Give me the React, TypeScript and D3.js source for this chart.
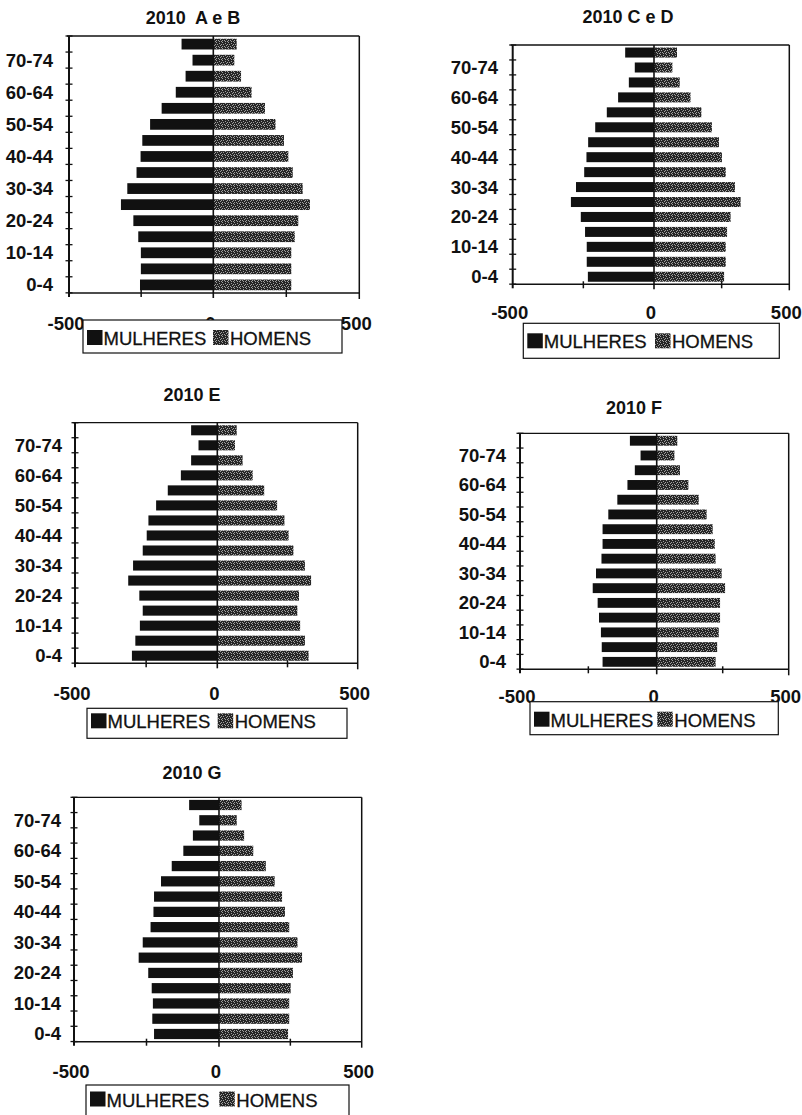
import React from "react";
import * as d3 from "d3";

// Age groups, youngest first (drawn bottom to top)
const AGE_GROUPS = [
  "0-4", "5-9", "10-14", "15-19", "20-24", "25-29", "30-34", "35-39",
  "40-44", "45-49", "50-54", "55-59", "60-64", "65-69", "70-74", "75+",
];

const X_TICKS = [-500, -250, 0, 250, 500];
const X_TICK_LABELS = [-500, 0, 500];

const SERIES_NAMES = ["MULHERES", "HOMENS"];

// Population per age group, youngest first
const MULHERES_AB = [254, 251, 251, 260, 277, 320, 298, 266, 252, 246, 219, 179, 130, 96, 72, 110];
const HOMENS_AB = [267, 267, 267, 279, 291, 331, 306, 272, 257, 242, 213, 177, 131, 95, 72, 80];

const MULHERES_CD = [234, 238, 238, 244, 259, 294, 276, 247, 239, 233, 208, 167, 127, 89, 68, 102];
const HOMENS_CD = [259, 265, 265, 270, 283, 320, 299, 265, 251, 240, 214, 175, 135, 95, 68, 85];

const MULHERES_E = [300, 288, 272, 262, 274, 313, 296, 262, 248, 242, 215, 174, 128, 92, 66, 92];
const HOMENS_E = [325, 312, 295, 285, 291, 334, 312, 271, 254, 239, 213, 167, 126, 90, 63, 69];

const MULHERES_F = [198, 201, 204, 211, 216, 234, 222, 202, 198, 198, 177, 144, 107, 80, 59, 98];
const HOMENS_F = [223, 229, 235, 240, 240, 259, 246, 223, 220, 212, 189, 159, 120, 88, 67, 78];

const MULHERES_G = [224, 230, 228, 232, 244, 277, 263, 236, 226, 224, 200, 163, 123, 90, 68, 103];
const HOMENS_G = [242, 246, 246, 251, 259, 291, 275, 246, 231, 221, 195, 164, 120, 88, 62, 79];

const TITLES = ["2010  A e B", "2010 C e D", "2010 E", "2010 F", "2010 G"];

// Panel geometry
const PANELS = [
  {
    title: TITLES[0], women: MULHERES_AB, men: HOMENS_AB,
    x: [69, 213.3, 359.3], top: 36, bottom: 293, titleX: 193, titleY: 18,
    labelRight: 53, tickY: 323,
    legend: { x: 83, y: 320, w: 259, h: 33, base: 345, gray: 130 },
  },
  {
    title: TITLES[1], women: MULHERES_CD, men: HOMENS_CD,
    x: [512.7, 654, 789.3], top: 45, bottom: 284.3, titleX: 628, titleY: 17,
    labelRight: 498, tickY: 312,
    legend: { x: 523.3, y: 323.3, w: 256, h: 35, base: 348.3, gray: 131.7 },
  },
  {
    title: TITLES[2], women: MULHERES_E, men: HOMENS_E,
    x: [75, 217.3, 357.7], top: 422.7, bottom: 663.3, titleX: 192, titleY: 395,
    labelRight: 62, tickY: 693,
    legend: { x: 87, y: 708.3, w: 260, h: 30, base: 728.3, gray: 130.7 },
  },
  {
    title: TITLES[3], women: MULHERES_F, men: HOMENS_F,
    x: [520, 656.7, 788.7], top: 433.3, bottom: 669.3, titleX: 634, titleY: 408,
    labelRight: 506, tickY: 696.7,
    legend: { x: 530, y: 701.7, w: 248.3, h: 33, base: 726.7, gray: 127.3 },
  },
  {
    title: TITLES[4], women: MULHERES_G, men: HOMENS_G,
    x: [74, 219, 361.7], top: 797.3, bottom: 1041.7, titleX: 192, titleY: 773,
    labelRight: 61, tickY: 1071.7,
    legend: { x: 86, y: 1085, w: 263, h: 40, base: 1106.5, gray: 133.3 },
  },
];

const FONT = "'Liberation Sans', Arial, Helvetica, sans-serif";
const INK = "#111";

// Speckle dots for the men's bars
const SPECKLE = [
  [0, 0], [3, 1], [1, 2], [4, 3], [2, 4], [5, 5], [0, 4], [3, 5], [5, 2],
];

function Pyramid({ p }: { p: (typeof PANELS)[number] }) {
  const x = d3.scaleLinear().domain([-500, 0, 500]).range(p.x);
  const y = d3
    .scaleBand<string>()
    .domain([...AGE_GROUPS].reverse())
    .range([p.top, p.bottom])
    .paddingInner(0.33)
    .paddingOuter(0.17);
  const step = y.step();
  const [left, zero, right] = p.x;
  const lg = p.legend;

  return (
    <g>
      <text x={p.titleX} y={p.titleY + 6.4} textAnchor="middle" fontFamily={FONT}
        fontWeight="bold" fontSize={18} fill={INK} style={{ whiteSpace: "pre" }}>
        {p.title}
      </text>

      {AGE_GROUPS.map((g, i) => (
        <rect key={"w" + g} x={x(-p.women[i])} y={y(g)} width={x(0) - x(-p.women[i])}
          height={y.bandwidth()} fill={INK} />
      ))}
      {AGE_GROUPS.map((g, i) => (
        <rect key={"m" + g} x={x(0)} y={y(g)} width={x(p.men[i]) - x(0)}
          height={y.bandwidth()} fill="url(#speckle)" />
      ))}

      {/* plot frame */}
      <line x1={left - 2} x2={right} y1={p.top} y2={p.top} stroke={INK} strokeWidth={1.3} />
      <line x1={right} x2={right} y1={p.top} y2={p.bottom + 6} stroke={INK} strokeWidth={1.5} />
      <line x1={left} x2={right} y1={p.bottom} y2={p.bottom} stroke={INK} strokeWidth={1.6} />
      <line x1={left} x2={left} y1={p.top} y2={p.bottom + 4} stroke={INK} strokeWidth={2} />
      <line x1={zero} x2={zero} y1={p.top} y2={p.bottom + 5} stroke={INK} strokeWidth={1.6} />

      {/* category tick marks */}
      {d3.range(AGE_GROUPS.length + 1).map((i) => (
        <line key={"ct" + i} x1={left - 3.5} x2={left + 3.5}
          y1={p.top + i * step} y2={p.top + i * step} stroke={INK} strokeWidth={1.3} />
      ))}
      {X_TICKS.filter((t) => t !== 0 && Math.abs(t) !== 500).map((t) => (
        <line key={"xt" + t} x1={x(t)} x2={x(t)} y1={p.bottom - 3} y2={p.bottom + 4}
          stroke={INK} strokeWidth={1.5} />
      ))}

      {AGE_GROUPS.map((g, i) =>
        i % 2 === 0 ? (
          <text key={"l" + g} x={p.labelRight} y={(y(g) as number) + y.bandwidth() / 2 + 6.5}
            textAnchor="end" fontFamily={FONT} fontWeight="bold" fontSize={18.5} fill={INK}>
            {g}
          </text>
        ) : null
      )}

      {X_TICK_LABELS.map((t) => (
        <text key={"xl" + t} x={x(t) - 3} y={p.tickY + 6.5} textAnchor="middle"
          fontFamily={FONT} fontWeight="bold" fontSize={18.5} fill={INK}>
          {t}
        </text>
      ))}

      {/* legend */}
      <rect x={lg.x} y={lg.y} width={lg.w} height={lg.h} fill="#fff" stroke={INK} strokeWidth={1.2} />
      <rect x={lg.x + 4} y={lg.base - 15} width={15.5} height={15} fill={INK} />
      <text x={lg.x + 20.5} y={lg.base} fontFamily={FONT} fontSize={18.5} fill={INK}
        stroke={INK} strokeWidth={0.3}>
        {SERIES_NAMES[0]}
      </text>
      <rect x={lg.x + lg.gray} y={lg.base - 15} width={15.5} height={15} fill="url(#speckle)" />
      <text x={lg.x + lg.gray + 17} y={lg.base} fontFamily={FONT} fontSize={18.5} fill={INK}
        stroke={INK} strokeWidth={0.3}>
        {SERIES_NAMES[1]}
      </text>
    </g>
  );
}

export default function App() {
  return (
    <svg width={802} height={1115} viewBox="0 0 802 1115"
      style={{ position: "absolute", left: 0, top: 0, display: "block", background: "#fff" }}>
      <defs>
        <pattern id="speckle" width={6} height={6} patternUnits="userSpaceOnUse">
          <rect width={6} height={6} fill="#262626" />
          {SPECKLE.map(([a, b], i) => (
            <rect key={i} x={a} y={b} width={1} height={1} fill="#a0a0a0" />
          ))}
        </pattern>
      </defs>
      <rect width={802} height={1115} fill="#fff" />
      {PANELS.map((p) => (
        <Pyramid key={p.title} p={p} />
      ))}
    </svg>
  );
}
